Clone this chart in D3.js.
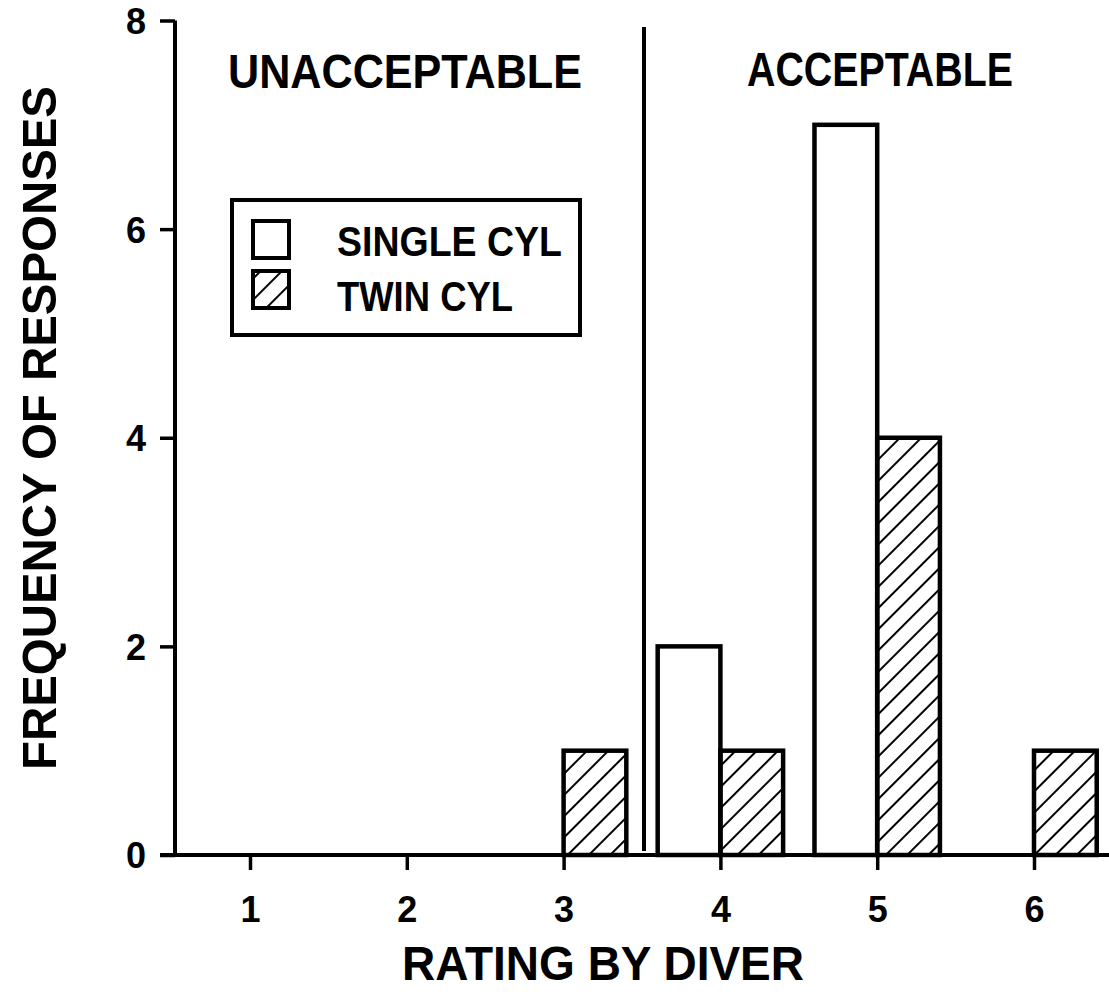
<!DOCTYPE html>
<html>
<head>
<meta charset="utf-8">
<script src="https://cdn.jsdelivr.net/npm/d3@7"></script>
<style>
  html, body { margin: 0; padding: 0; background: #fff; }
  svg text { font-family: "Liberation Sans", Arial, Helvetica, sans-serif; font-weight: bold; fill: #000; }
</style>
</head>
<body>
<div id="chart"></div>
<script>
const ratings = [1, 2, 3, 4, 5, 6];
const singleCyl = [0, 0, 0, 2, 7, 0];
const twinCyl = [0, 0, 1, 1, 4, 1];
const yTicks = [0, 2, 4, 6, 8];
const seriesNames = ["SINGLE CYL", "TWIN CYL"];
const zoneLabels = ["UNACCEPTABLE", "ACCEPTABLE"];
const cutoff = 3.5;

const W = 1109, H = 994;
const svg = d3.select("#chart").append("svg").attr("width", W).attr("height", H);

const x = d3.scaleLinear().domain([1, 6]).range([250, 1034]);
const y = d3.scaleLinear().domain([0, 8]).range([855, 20.5]);
const barW = x(1.4) - x(1);

// hatch pattern for twin cylinder bars
const defs = svg.append("defs");
defs.append("pattern").attr("id", "hatch").attr("patternUnits", "userSpaceOnUse")
    .attr("width", 15).attr("height", 15).attr("patternTransform", "rotate(45)")
    .append("line").attr("x1", 0).attr("y1", 0).attr("x2", 0).attr("y2", 15)
    .attr("stroke", "#000").attr("stroke-width", 4);

// bars
const bars = svg.append("g");
ratings.forEach((r, i) => {
    if (singleCyl[i] > 0) bars.append("rect").attr("x", x(r) - barW).attr("y", y(singleCyl[i]))
        .attr("width", barW).attr("height", y(0) - y(singleCyl[i]))
        .attr("fill", "#fff").attr("stroke", "#000").attr("stroke-width", 4.5);
    if (twinCyl[i] > 0) bars.append("rect").attr("x", x(r)).attr("y", y(twinCyl[i]))
        .attr("width", barW).attr("height", y(0) - y(twinCyl[i]))
        .attr("fill", "url(#hatch)").attr("stroke", "#000").attr("stroke-width", 4.5);
});

// axes
const yAxis = svg.append("g").attr("transform", `translate(175,0)`)
    .call(d3.axisLeft(y).tickValues(yTicks).tickFormat(d3.format("d")).tickSize(15).tickSizeOuter(0).tickPadding(14));
yAxis.select(".domain").attr("stroke-width", 4).attr("d", `M0,${y(8)}V${y(0)}`);
yAxis.selectAll(".tick line").attr("stroke-width", 3.5);
yAxis.selectAll(".tick text").style("font-size", "36px").attr("dy", "0.36em");

const xAxis = svg.append("g").attr("transform", `translate(0,${y(0)})`)
    .call(d3.axisBottom(x).tickValues(ratings).tickFormat(d3.format("d")).tickSize(15).tickSizeOuter(0).tickPadding(0));
xAxis.select(".domain").attr("stroke-width", 4).attr("d", "M160,0H1109");
xAxis.selectAll(".tick line").attr("stroke-width", 3.5);
xAxis.selectAll(".tick text").style("font-size", "36px").attr("dy", null).attr("y", 67);

// cutoff line between zones
svg.append("line").attr("x1", x(cutoff) + 2).attr("x2", x(cutoff) + 2).attr("y1", 27).attr("y2", 851)
    .attr("stroke", "#000").attr("stroke-width", 4);

// zone labels
svg.append("text").attr("x", 228).attr("y", 88).attr("textLength", 354).attr("lengthAdjust", "spacingAndGlyphs")
    .style("font-size", "49px").text(zoneLabels[0]);
svg.append("text").attr("x", 747).attr("y", 86).attr("textLength", 266).attr("lengthAdjust", "spacingAndGlyphs")
    .style("font-size", "49px").text(zoneLabels[1]);

// legend
const lg = svg.append("g");
lg.append("rect").attr("x", 232).attr("y", 200).attr("width", 348).attr("height", 135)
    .attr("fill", "#fff").attr("stroke", "#000").attr("stroke-width", 4);
const lgFill = ["#fff", "url(#hatch)"], lgLen = [225, 176];
seriesNames.forEach((n, i) => {
    lg.append("rect").attr("x", 253).attr("y", 221 + i * 50).attr("width", 36).attr("height", 37)
        .attr("fill", lgFill[i]).attr("stroke", "#000").attr("stroke-width", 4);
    lg.append("text").attr("x", 337).attr("y", 256 + i * 55).attr("textLength", lgLen[i])
        .attr("lengthAdjust", "spacingAndGlyphs").style("font-size", "42px").text(n);
});

// axis titles
svg.append("text").attr("x", 402).attr("y", 980).attr("textLength", 402).attr("lengthAdjust", "spacingAndGlyphs")
    .style("font-size", "49px").text("RATING BY DIVER");
svg.append("text").attr("transform", "translate(56,428) rotate(-90)").attr("text-anchor", "middle")
    .attr("textLength", 684).attr("lengthAdjust", "spacingAndGlyphs")
    .style("font-size", "49px").text("FREQUENCY OF RESPONSES");
</script>
</body>
</html>
